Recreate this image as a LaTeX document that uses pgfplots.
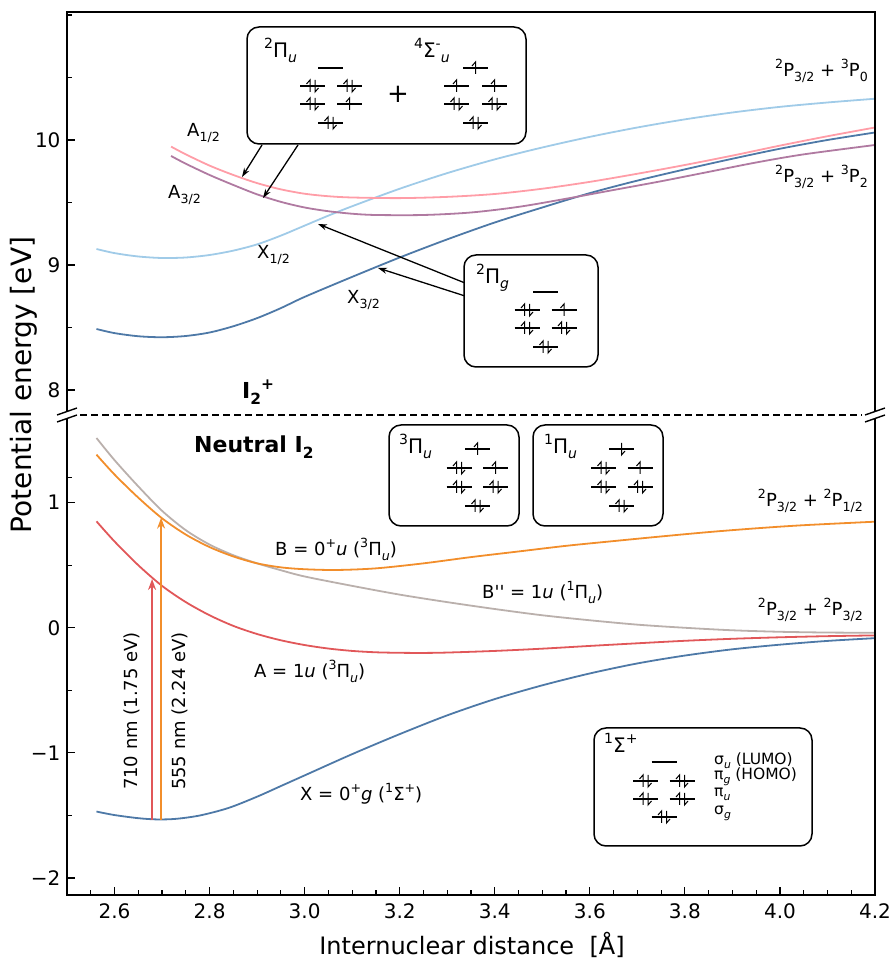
\documentclass[border=0pt]{standalone}
\usepackage{fontspec}
\setmainfont{DejaVu Sans}
\usepackage{pgfplots}
\pgfplotsset{compat=1.18}
\usetikzlibrary{arrows.meta}
\definecolor{tblue}{HTML}{4E79A7}
\definecolor{tlblue}{HTML}{A0CBE8}
\definecolor{tpink}{HTML}{FF9DA7}
\definecolor{tpurple}{HTML}{B07AA1}
\definecolor{torange}{HTML}{F28E2B}
\definecolor{tred}{HTML}{E15759}
\definecolor{tgray}{HTML}{BAB0AC}
\newcommand{\up}[1]{\raisebox{0.45em}{\scalebox{0.7}{#1}}}
\newcommand{\dn}[1]{\raisebox{-0.25em}{\scalebox{0.7}{#1}}}
\newcommand{\fs}[1]{\fontsize{#1}{#1}\selectfont}
\newcommand{\eup}[2]{\draw[line width=1pt] ({#1},{#2+6}) -- ({#1},{#2-6}) -- ({#1-3.5},{#2-2});}
\newcommand{\edn}[2]{\draw[line width=1pt] ({#1},{#2-6}) -- ({#1},{#2+6}) -- ({#1+3.5},{#2+2});}
\newcommand{\lv}[3]{\draw[line width=1.2pt] ({#1-12.5},#2) -- ({#1+12.5},#2);%
  \ifcase#3 \or \eup{#1}{#2}\or \eup{#1-2.5}{#2}\edn{#1+2.5}{#2}\or \edn{#1}{#2}\fi}
\begin{document}
\begin{tikzpicture}
\pgfplotsset{base/.style={scale only axis, width=808pt, xmin=2.5, xmax=4.2,
  axis line style={draw=none}, tick align=inside, xtick pos=left, ytick pos=left,
  major tick length=8pt, minor tick length=5pt, tick style={black, line width=1.2pt},
  tick label style={font=\fs{20}}, /pgf/number format/assume math mode=true,
  xticklabel style={yshift=-5pt}, yticklabel style={xshift=-3pt},
  every axis plot/.append style={line width=1.8pt, smooth, no markers}}}
% ---------------- bottom (neutral) ----------------
\begin{axis}[base, at={(0pt,0pt)}, anchor=south west, height=477pt,
  ymin=-2.136, ymax=1.68,
  xtick={2.6,2.8,3.0,3.2,3.4,3.6,3.8,4.0,4.2},
  xticklabels={2.6,2.8,3.0,3.2,3.4,3.6,3.8,4.0,4.2},
  minor xtick={2.55,2.65,2.70,2.75,2.85,2.90,2.95,3.05,3.10,3.15,3.25,3.30,3.35,3.45,3.50,3.55,3.65,3.70,3.75,3.85,3.90,3.95,4.05,4.10,4.15},
  ytick={-2,-1,0,1}, yticklabels={−2,−1,0,1},
  minor ytick={-1.5,-0.5,0.5,1.2}]
% X = 0+g
\addplot[tblue] coordinates {(2.562,-1.469) (2.60,-1.497) (2.65,-1.522) (2.69,-1.532) (2.73,-1.527) (2.78,-1.50) (2.84,-1.44) (2.90,-1.35) (2.95,-1.265) (3.00,-1.18) (3.10,-1.01) (3.20,-0.85) (3.30,-0.70) (3.40,-0.57) (3.50,-0.46) (3.60,-0.365) (3.70,-0.285) (3.80,-0.222) (3.90,-0.172) (4.00,-0.135) (4.10,-0.105) (4.20,-0.083)};
% A = 1u
\addplot[tred] coordinates {(2.562,0.851) (2.60,0.69) (2.65,0.50) (2.70,0.335) (2.75,0.205) (2.80,0.10) (2.85,0.015) (2.90,-0.05) (2.95,-0.10) (3.00,-0.138) (3.05,-0.166) (3.10,-0.185) (3.15,-0.196) (3.20,-0.20) (3.25,-0.201) (3.30,-0.198) (3.40,-0.185) (3.50,-0.167) (3.60,-0.145) (3.70,-0.124) (3.80,-0.104) (3.90,-0.088) (4.00,-0.076) (4.10,-0.067) (4.20,-0.061)};
% B'' = 1u
\addplot[tgray] coordinates {(2.562,1.517) (2.60,1.34) (2.65,1.13) (2.70,0.935) (2.75,0.78) (2.80,0.665) (2.85,0.58) (2.90,0.515) (2.95,0.46) (3.00,0.41) (3.10,0.335) (3.20,0.265) (3.30,0.205) (3.40,0.15) (3.50,0.10) (3.60,0.06) (3.70,0.025) (3.80,0.0) (3.90,-0.02) (4.00,-0.032) (4.10,-0.038) (4.20,-0.04)};
% B = 0+u
\addplot[torange] coordinates {(2.562,1.384) (2.60,1.225) (2.65,1.04) (2.70,0.875) (2.75,0.745) (2.80,0.645) (2.85,0.57) (2.90,0.515) (2.95,0.483) (3.00,0.468) (3.067,0.462) (3.15,0.475) (3.25,0.515) (3.35,0.565) (3.45,0.61) (3.55,0.655) (3.65,0.693) (3.75,0.73) (3.85,0.765) (3.95,0.795) (4.05,0.82) (4.20,0.848)};
\draw[tred, line width=1.6pt, -{Stealth[length=11pt,width=8pt]}] (axis cs:2.679,-1.536) -- (axis cs:2.679,0.39);
\draw[torange, line width=1.6pt, -{Stealth[length=11pt,width=8pt]}] (axis cs:2.698,-1.536) -- (axis cs:2.698,0.88);
\end{axis}
% ---------------- top (cation) ----------------
\begin{axis}[base, at={(0pt,483pt)}, anchor=south west, height=400pt,
  ymin=7.824, ymax=11.024, xtick=\empty,
  ytick={8,9,10}, yticklabels={8,9,10}, minor ytick={8.5,9.5,10.5,11}]
% X3/2
\addplot[tblue] coordinates {(2.562,8.488) (2.60,8.455) (2.65,8.43) (2.70,8.422) (2.75,8.432) (2.80,8.46) (2.85,8.51) (2.90,8.575) (2.95,8.655) (3.00,8.745) (3.10,8.905) (3.20,9.06) (3.30,9.205) (3.40,9.34) (3.50,9.46) (3.60,9.575) (3.70,9.675) (3.80,9.765) (3.90,9.85) (4.00,9.93) (4.10,10.00) (4.20,10.06)};
% X1/2
\addplot[tlblue] coordinates {(2.562,9.128) (2.60,9.095) (2.65,9.068) (2.70,9.056) (2.75,9.06) (2.80,9.08) (2.85,9.115) (2.90,9.165) (2.95,9.235) (3.00,9.315) (3.05,9.395) (3.10,9.47) (3.20,9.61) (3.30,9.735) (3.40,9.845) (3.50,9.94) (3.60,10.025) (3.70,10.10) (3.80,10.165) (3.90,10.22) (4.00,10.265) (4.10,10.30) (4.20,10.33)};
% A3/2
\addplot[tpurple] coordinates {(2.719,9.872) (2.75,9.81) (2.80,9.72) (2.85,9.64) (2.90,9.565) (2.95,9.505) (3.00,9.46) (3.05,9.43) (3.10,9.41) (3.15,9.40) (3.25,9.40) (3.35,9.42) (3.45,9.465) (3.55,9.53) (3.65,9.60) (3.75,9.67) (3.85,9.745) (3.95,9.82) (4.05,9.885) (4.20,9.96)};
% A1/2
\addplot[tpink] coordinates {(2.719,9.947) (2.75,9.885) (2.80,9.795) (2.85,9.72) (2.90,9.655) (2.95,9.605) (3.00,9.57) (3.05,9.55) (3.10,9.54) (3.20,9.535) (3.30,9.545) (3.40,9.568) (3.50,9.61) (3.60,9.665) (3.70,9.73) (3.80,9.80) (3.90,9.875) (4.00,9.955) (4.10,10.03) (4.20,10.10)};
\end{axis}
% ---------------- annotations in image pixel frame ----------------
\begin{scope}[shift={(-67pt,895pt)}, x=1pt, y=-1pt]
% spines
\draw[line width=1.6pt] (67,412) -- (67,12) -- (875,12) -- (875,412);
\draw[line width=1.6pt] (67,418) -- (67,895) -- (875,895) -- (875,418);
% break marks and dashed line
\draw[line width=1.4pt] (57,415) -- (77,408) (57,422) -- (77,415);
\draw[line width=1.4pt] (865,415) -- (885,408) (865,422) -- (885,415);
\draw[line width=1.5pt, dash pattern=on 7pt off 4pt] (80,415) -- (862,415);
% axis labels
\node[font=\fs{24}] at (472,945) {Internuclear distance~ [Å]};
\node[font=\fs{28}, rotate=90] at (24,385) {Potential energy [eV]};
% top labels
\begin{scope}[every node/.style={inner sep=0pt, font=\fs{18}}]
\node[anchor=base west] at (187,137) {A\dn{1/2}};
\node[anchor=base west] at (168,199) {A\dn{3/2}};
\node[anchor=base west] at (257,259) {X\dn{1/2}};
\node[anchor=base west] at (347,304) {X\dn{3/2}};
\node[anchor=base east] at (868,77) {\up{2}P\dn{3/2} + \up{3}P\dn{0}};
\node[anchor=base east] at (868,183) {\up{2}P\dn{3/2} + \up{3}P\dn{2}};
\node[anchor=base east] at (863,507) {\up{2}P\dn{3/2} + \up{2}P\dn{1/2}};
\node[anchor=base east] at (863,616) {\up{2}P\dn{3/2} + \up{2}P\dn{3/2}};
\node[anchor=base west] at (275,556) {B = 0\up{+}\textit{u} (\up{3}Π\dn{\textit{u}})};
\node[anchor=base west] at (482,599) {B\textquotesingle\textquotesingle{} = 1\textit{u} (\up{1}Π\dn{\textit{u}})};
\node[anchor=base west] at (254,678) {A = 1\textit{u} (\up{3}Π\dn{\textit{u}})};
\node[anchor=base west] at (300,801) {X = 0\up{+}\textit{g} (\up{1}Σ\up{+})};
\node[anchor=center, rotate=90] at (131.5,711) {710 nm (1.75 eV)};
\node[anchor=center, rotate=90] at (180,711) {555 nm (2.24 eV)};
\node[anchor=base west, font=\fs{22}\bfseries] at (242,399) {I\dn{2}\up{+}};
\node[anchor=base west, font=\fs{22}\bfseries] at (194,453) {Neutral I\dn{2}};
\end{scope}
% arrows
\draw[line width=1.3pt, -{Stealth[length=9pt,width=6pt]}] (262,145) -- (242,177);
\draw[line width=1.3pt, -{Stealth[length=9pt,width=6pt]}] (298,145) -- (263,198);
\draw[line width=1.3pt, -{Stealth[length=9pt,width=6pt]}] (465,283) -- (318,224);
\draw[line width=1.3pt, -{Stealth[length=9pt,width=6pt]}] (465,296) -- (378,268);
% boxes
\begin{scope}[every node/.style={inner sep=0pt, font=\fs{20}}]
\draw[line width=1.5pt, rounded corners=12pt, fill=white] (247,27) rectangle (526,144);
\node[anchor=base west] at (264,58) {\up{2}Π\dn{\textit{u}}};
\node[anchor=base west] at (414,58) {\up{4}Σ\up{-}\dn{\textit{u}}};
\node[font=\fs{26}] at (398,94) {+};
\lv{330.5}{68}{0}\lv{312.5}{86}{2}\lv{349.5}{86}{2}\lv{312.5}{104}{2}\lv{349.5}{104}{1}\lv{330.5}{123}{2}
\lv{475.5}{68}{1}\lv{456.5}{86}{1}\lv{494.5}{86}{1}\lv{456.5}{104}{2}\lv{494.5}{104}{2}\lv{475.5}{123}{2}
\draw[line width=1.5pt, rounded corners=12pt, fill=white] (464,255) rectangle (598,367);
\node[anchor=base west] at (476,284) {\up{2}Π\dn{\textit{g}}};
\lv{545.5}{292}{0}\lv{527}{310}{2}\lv{564}{310}{1}\lv{527}{328}{2}\lv{564}{328}{2}\lv{545.5}{347}{2}
\draw[line width=1.5pt, rounded corners=12pt, fill=white] (389,425) rectangle (519,526);
\node[anchor=base west] at (399,454) {\up{3}Π\dn{\textit{u}}};
\lv{477.5}{449}{1}\lv{459}{468}{2}\lv{495.5}{468}{1}\lv{459}{487}{2}\lv{495.5}{487}{2}\lv{477.5}{506}{2}
\draw[line width=1.5pt, rounded corners=12pt, fill=white] (533,425) rectangle (663,526);
\node[anchor=base west] at (544,454) {\up{1}Π\dn{\textit{u}}};
\lv{621.5}{449}{3}\lv{603.5}{468}{2}\lv{640}{468}{1}\lv{603.5}{487}{2}\lv{640}{487}{2}\lv{621.5}{506}{2}
\draw[line width=1.5pt, rounded corners=12pt, fill=white] (594,728) rectangle (812,846);
\node[anchor=base west] at (604,753) {\up{1}Σ\up{+}};
\lv{664}{762}{0}\lv{645.5}{781}{2}\lv{682}{781}{2}\lv{645.5}{799}{2}\lv{682}{799}{2}\lv{664}{817}{2}
\node[anchor=base west, font=\fs{15.5}] at (714,765) {σ\dn{\textit{u}} (LUMO)};
\node[anchor=base west, font=\fs{15.5}] at (714,780) {π\dn{\textit{g}} (HOMO)};
\node[anchor=base west, font=\fs{15.5}] at (714,797) {π\dn{\textit{u}}};
\node[anchor=base west, font=\fs{15.5}] at (714,815) {σ\dn{\textit{g}}};
\end{scope}
\end{scope}
\pgfresetboundingbox
\path[use as bounding box] (-67pt,-68pt) rectangle (825pt,895pt);
\end{tikzpicture}
\end{document}
